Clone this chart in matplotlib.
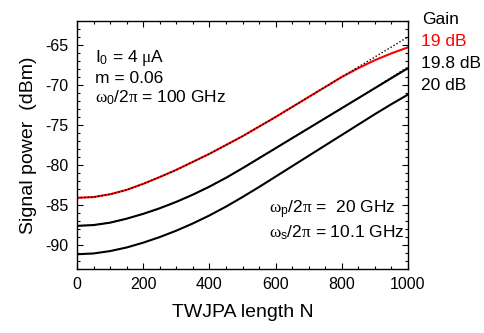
import matplotlib
matplotlib.use('Agg')
import matplotlib.pyplot as plt
from matplotlib.ticker import MultipleLocator

plt.rcParams['font.family'] = ['Liberation Sans', 'DejaVu Sans']
plt.rcParams['mathtext.fontset'] = 'custom'
plt.rcParams['mathtext.rm'] = 'Liberation Sans'
plt.rcParams['mathtext.it'] = 'Liberation Serif'
plt.rcParams['axes.unicode_minus'] = False

# TWJPA length N
length_n = [0, 50, 100, 150, 200, 250, 300, 350, 400, 450, 500,
            550, 600, 650, 700, 750, 800, 850, 900, 950, 1000]

# signal power (dBm) for the three gains
power_19db = [-84.1, -84.0, -83.65, -83.1, -82.35, -81.5, -80.6, -79.6, -78.6, -77.5, -76.4,
              -75.2, -74.0, -72.75, -71.5, -70.25, -69.0, -67.9, -66.9, -66.05, -65.3]
power_19db_ideal = [-84.1, -84.0, -83.65, -83.1, -82.35, -81.5, -80.6, -79.6, -78.6, -77.5, -76.4,
                    -75.2, -74.0, -72.75, -71.5, -70.25, -69.0, -67.75, -66.5, -65.25, -64.0]
power_198db = [-87.6, -87.5, -87.2, -86.7, -86.1, -85.4, -84.6, -83.7, -82.7, -81.6, -80.4,
               -79.15, -77.9, -76.65, -75.4, -74.15, -72.9, -71.65, -70.4, -69.15, -67.9]
power_198db_ideal = [-87.6, -87.5, -87.2, -86.7, -86.1, -85.4, -84.6, -83.7, -82.7, -81.6, -80.4,
                     -79.15, -77.9, -76.65, -75.4, -74.15, -72.9, -71.65, -70.35, -69.05, -67.75]
power_20db = [-91.15, -91.05, -90.75, -90.3, -89.7, -89.0, -88.2, -87.3, -86.3, -85.2, -84.0,
              -82.75, -81.45, -80.15, -78.85, -77.55, -76.25, -74.95, -73.65, -72.4, -71.2]

gain_labels = ['19 dB', '19.8 dB', '20 dB']
gain_colors = ['red', 'black', 'black']

fig = plt.figure(figsize=(4.85, 3.33), dpi=100)
ax = fig.add_axes([0.159, 0.192, 0.682, 0.745])

ax.plot(length_n, power_20db, color='black', lw=1.5)
ax.plot(length_n, power_198db, color='black', lw=1.5)
ax.plot(length_n, power_198db_ideal, color='black', lw=1.0, ls=(0, (1, 1.5)))
ax.plot(length_n, power_19db, color='red', lw=1.5)
ax.plot(length_n, power_19db_ideal, color='black', lw=1.0, ls=(0, (1, 1.5)))

ax.set_xlim(0, 1000)
ax.set_ylim(-93, -62)
ax.xaxis.set_major_locator(MultipleLocator(200))
ax.xaxis.set_minor_locator(MultipleLocator(50))
ax.yaxis.set_major_locator(MultipleLocator(5))
ax.yaxis.set_minor_locator(MultipleLocator(1))
ax.tick_params(which='both', direction='in', top=True, right=True, labelsize=11.5, width=0.8)
ax.tick_params(which='major', length=4.5, pad=6)
ax.tick_params(which='minor', length=2.5)
for s in ax.spines.values():
    s.set_linewidth(1.0)

ax.set_xlabel('TWJPA length N', fontsize=14, labelpad=8)
ax.set_ylabel('Signal power  (dBm)', fontsize=14, labelpad=6)

ax.text(0.055, 0.85, r'$\mathrm{I_0}$ = 4 $\mu$A', transform=ax.transAxes, fontsize=12.5, va='center')
ax.text(0.055, 0.77, 'm = 0.06', transform=ax.transAxes, fontsize=12.5, va='center')
ax.text(0.055, 0.69, r'$\omega_0$/2$\pi$ = 100 GHz', transform=ax.transAxes, fontsize=12.5, va='center')
ax.text(0.58, 0.24, r'$\omega_\mathrm{p}$/2$\pi$ =  20 GHz', transform=ax.transAxes, fontsize=12.5, va='center')
ax.text(0.58, 0.147, r'$\omega_\mathrm{s}$/2$\pi$ = 10.1 GHz', transform=ax.transAxes, fontsize=12.5, va='center')

fig.text(0.871, 1 - 19 / 333, 'Gain', fontsize=12.5, va='center')
for i, (lab, col) in enumerate(zip(gain_labels, gain_colors)):
    fig.text(0.869, 1 - (42 + 22 * i) / 333, lab, fontsize=12.5, va='center', color=col)

fig.savefig('out.png', dpi=100)
